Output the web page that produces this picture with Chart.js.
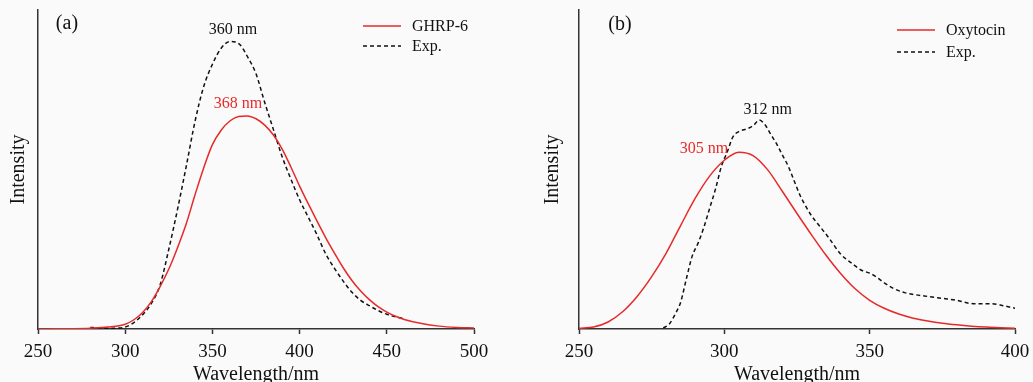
<!DOCTYPE html>
<html>
<head>
<meta charset="utf-8">
<script src="https://cdn.jsdelivr.net/npm/chart.js@4.4.1/dist/chart.umd.min.js"></script>
<style>
  html, body { margin: 0; padding: 0; background: #fafafa; overflow: hidden; }
  .panel { position: absolute; top: 0; }
</style>
</head>
<body>
<div class="panel" style="left:0"><canvas id="chart-a" width="517" height="395"></canvas></div>
<div class="panel" style="left:517px"><canvas id="chart-b" width="520" height="395"></canvas></div>
<script>
// Panel (a): GHRP-6
const ghrpNm = [250, 260, 270, 280, 290, 300, 305, 310, 315, 320, 325, 330, 335, 340, 345, 350, 355, 360, 365, 370, 375, 380, 385, 390, 395, 400, 405, 410, 415, 420, 425, 430, 435, 440, 445, 450, 455, 460, 470, 480, 490, 500]
const ghrpIntensity = [0, 0.05, 0.1, 0.25, 0.6, 1.5, 2.9, 5.2, 8.6, 13.3, 18.8, 25.5, 33, 42, 50.5, 57.8, 62.3, 65.2, 66.6, 66.8, 65.9, 63.9, 60.8, 56.4, 50.8, 44.8, 39.2, 33.8, 28.6, 23.8, 19.2, 15.2, 11.9, 9.2, 7, 5.3, 4, 3, 1.7, 0.9, 0.5, 0.3]
const expANm = [280, 285, 290, 295, 300, 305, 310, 315, 320, 325, 330, 335, 340, 345, 350, 355, 360, 363, 366, 370, 375, 380, 385, 390, 395, 400, 405, 410, 415, 420, 425, 430, 435, 440, 445, 450, 455, 460]
const expAIntensity = [0.5, 0.3, 0.2, 0.3, 0.6, 2, 4.5, 8, 13.8, 25, 37.5, 51, 65, 76, 83, 88, 90.1, 90, 89, 85.5, 80, 71, 62.5, 54, 47, 40.5, 35, 29.5, 23.5, 19, 15, 11.5, 9, 7.3, 5.8, 4.6, 3.8, 3.3]

// Panel (b): Oxytocin
const oxyNm = [250, 255, 260, 265, 270, 275, 280, 285, 290, 295, 300, 305, 310, 315, 320, 325, 330, 335, 340, 345, 350, 355, 360, 365, 370, 375, 380, 385, 390, 395, 400]
const oxyIntensity = [0.2, 0.6, 2.2, 5.4, 10.2, 16.4, 23.8, 32.5, 41, 48, 52.9, 55.4, 54.3, 49.8, 43.1, 36.2, 29.5, 23.1, 17.4, 12.6, 9, 6.5, 4.7, 3.4, 2.5, 1.8, 1.3, 0.9, 0.6, 0.4, 0.2]
const expBNm = [279, 281, 283, 285, 287, 289, 291, 293, 295, 297, 299, 301, 303, 305, 308, 310, 312, 314, 316, 318, 320, 322, 324, 326, 328, 330, 333, 336, 340, 344, 347, 350, 352, 355, 358, 362, 366, 370, 375, 380, 384, 388, 392, 396, 400]
const expBIntensity = [0.3, 1.5, 4.5, 8.5, 16, 23, 27, 32, 38, 44, 51, 55.5, 60.3, 61.9, 62.8, 63.8, 65.5, 64, 61, 58, 54.5, 51, 46.5, 42, 38.5, 35.5, 32, 28.5, 23.5, 20.5, 18.5, 17.5, 16.5, 14.5, 12.8, 11.4, 10.7, 10.2, 9.6, 9, 8.1, 7.9, 7.9, 7.3, 6.5]

const panelATicks = [250, 300, 350, 400, 450, 500]
const panelBTicks = [250, 300, 350, 400]

const RED = "#e62a2a"
const INK = "#111111"
const SERIF = "'Liberation Serif', 'Times New Roman', serif"

const toPoints = (xs, ys) => xs.map((x, i) => ({ x: x, y: ys[i] }))

// text placed in data coordinates, plus a drawn legend
const notesPlugin = {
  id: "notes",
  afterDatasetsDraw(chart, args, opts) {
    const ctx = chart.ctx
    const xs = chart.scales.x
    const ys = chart.scales.y
    ctx.save()
    ctx.textAlign = "center"
    ctx.textBaseline = "middle"
    opts.labels.forEach((l) => {
      ctx.font = l.size + "px " + SERIF
      ctx.fillStyle = l.color
      ctx.fillText(l.text, xs.getPixelForValue(l.x), ys.getPixelForValue(l.y))
    })
    // legend
    const area = chart.chartArea
    const lx = area.right - opts.legendOffset
    ctx.textAlign = "left"
    ctx.font = "16px " + SERIF
    chart.data.datasets.forEach((ds, i) => {
      const y = opts.legendRows[i]
      ctx.strokeStyle = ds.borderColor
      ctx.lineWidth = ds.borderWidth
      ctx.setLineDash(ds.borderDash || [])
      ctx.beginPath()
      ctx.moveTo(lx, y)
      ctx.lineTo(lx + 38, y)
      ctx.stroke()
      ctx.setLineDash([])
      ctx.fillStyle = INK
      ctx.fillText(ds.label, lx + 49, y + 1)
    })
    ctx.restore()
  },
}

function makeChart(id, cfg) {
  return new Chart(document.getElementById(id), {
    type: "line",
    data: {
      datasets: [
        {
          label: cfg.fitLabel,
          data: toPoints(cfg.fitNm, cfg.fitValues),
          borderColor: RED,
          borderWidth: 1.5,
          pointRadius: 0,
          cubicInterpolationMode: "monotone",
        },
        {
          label: "Exp.",
          data: toPoints(cfg.expNm, cfg.expValues),
          borderColor: INK,
          borderWidth: 1.5,
          borderDash: [4, 3],
          pointRadius: 0,
          cubicInterpolationMode: "monotone",
        },
      ],
    },
    options: {
      responsive: false,
      animation: false,
      events: [],
      layout: { padding: { left: 0, top: 10, right: cfg.padRight, bottom: 0 } },
      plugins: {
        legend: { display: false },
        tooltip: { enabled: false },
        notes: { labels: cfg.labels, legendOffset: cfg.legendOffset, legendRows: cfg.legendRows },
      },
      scales: {
        x: {
          type: "linear",
          min: cfg.ticks[0],
          max: cfg.ticks[cfg.ticks.length - 1],
          afterBuildTicks: (scale) => { scale.ticks = cfg.ticks.map((v) => ({ value: v })) },
          afterFit: (scale) => { scale.height = 66 },
          grid: { drawOnChartArea: false, tickLength: 5, tickColor: "#333", tickWidth: 1.5 },
          border: { color: "#333", width: 1.5 },
          ticks: { color: INK, font: { family: SERIF, size: 19 }, padding: 7, maxRotation: 0 },
          title: { display: true, text: "Wavelength/nm", color: INK, font: { family: SERIF, size: 20 }, padding: { top: 0, bottom: 8 } },
        },
        y: {
          min: 0,
          max: 100,
          afterFit: (scale) => { scale.width = cfg.yWidth },
          grid: { display: false, drawTicks: false },
          border: { color: "#333", width: 1.5 },
          ticks: { display: false },
          title: { display: true, text: "Intensity", color: INK, font: { family: SERIF, size: 20 }, padding: { top: cfg.yTitlePad, bottom: 0 } },
        },
      },
    },
    plugins: [notesPlugin],
  })
}

makeChart("chart-a", {
  fitLabel: "GHRP-6",
  fitNm: ghrpNm, fitValues: ghrpIntensity,
  expNm: expANm, expValues: expAIntensity,
  ticks: panelATicks,
  yWidth: 38, padRight: 43, yTitlePad: 7,
  legendOffset: 111, legendRows: [26, 46],
  labels: [
    { text: "(a)", x: 266.6, y: 95.6, color: INK, size: 20 },
    { text: "360 nm", x: 361.8, y: 93.7, color: INK, size: 16 },
    { text: "368 nm", x: 364.7, y: 70.5, color: RED, size: 16 },
  ],
})

makeChart("chart-b", {
  fitLabel: "Oxytocin",
  fitNm: oxyNm, fitValues: oxyIntensity,
  expNm: expBNm, expValues: expBIntensity,
  ticks: panelBTicks,
  yWidth: 62, padRight: 22, yTitlePad: 24,
  legendOffset: 118, legendRows: [30, 52],
  labels: [
    { text: "(b)", x: 264.1, y: 95.3, color: INK, size: 20 },
    { text: "312 nm", x: 314.9, y: 68.7, color: INK, size: 16 },
    { text: "305 nm", x: 293, y: 56.4, color: RED, size: 16 },
  ],
})
</script>
</body>
</html>
